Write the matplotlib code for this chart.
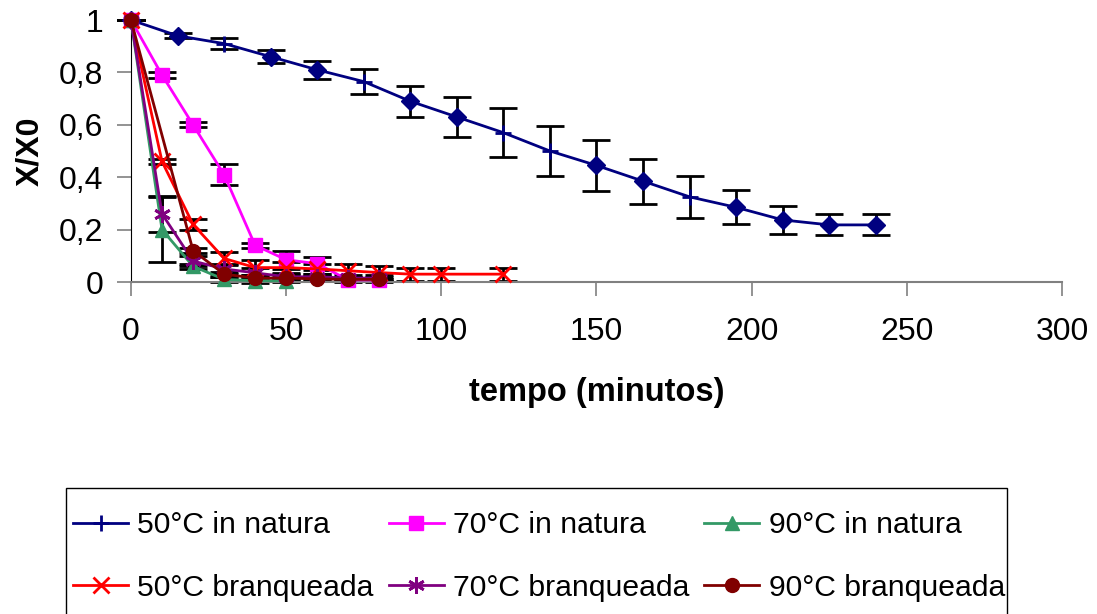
import matplotlib
matplotlib.use("Agg")
import matplotlib.pyplot as plt
from matplotlib.patches import Rectangle
from matplotlib.ticker import FixedLocator, FuncFormatter

plt.rcParams['font.family'] = ['Liberation Sans', 'DejaVu Sans']

# 50°C in natura
t_50n = [0, 15, 30, 45, 60, 75, 90, 105, 120, 135, 150, 165, 180, 195, 210, 225, 240]
y_50n = [1.0, 0.94, 0.91, 0.86, 0.81, 0.765, 0.69, 0.63, 0.57, 0.50, 0.445, 0.385, 0.325, 0.285, 0.237, 0.218, 0.218]
e_50n = [0, 0.01, 0.02, 0.025, 0.035, 0.048, 0.059, 0.078, 0.093, 0.097, 0.097, 0.086, 0.081, 0.065, 0.054, 0.04, 0.04]
plus_50n = [30, 75, 120, 135, 180]  # pontos com marcador "+", o resto losango

# 70°C in natura
t_70n = [0, 10, 20, 30, 40, 50, 60, 70, 80]
y_70n = [1.0, 0.79, 0.60, 0.41, 0.14, 0.085, 0.07, 0.008, 0.008]
e_70n = [0, 0.01, 0.01, 0.04, 0.01, 0.035, 0.025, 0.005, 0.005]

# 90°C in natura
t_90n = [0, 10, 20, 30, 40, 50]
y_90n = [1.0, 0.20, 0.06, 0.01, 0.005, 0.005]
e_90n = [0, 0.125, 0.01, 0.01, 0.01, 0.005]

# 50°C branqueada
t_50b = [0, 10, 20, 30, 40, 50, 60, 70, 80, 90, 100, 120]
y_50b = [1.0, 0.46, 0.22, 0.09, 0.055, 0.055, 0.05, 0.043, 0.036, 0.03, 0.03, 0.03]
e_50b = [0, 0.01, 0.02, 0.025, 0.03, 0.02, 0.02, 0.025, 0.025, 0.025, 0.025, 0.025]

# 70°C branqueada
t_70b = [0, 10, 20, 30, 40, 50, 60, 70, 80]
y_70b = [1.0, 0.26, 0.08, 0.05, 0.035, 0.02, 0.02, 0.015, 0.015]
e_70b = [0, 0.07, 0.02, 0.02, 0.02, 0.01, 0.01, 0.01, 0.01]

# 90°C branqueada
t_90b = [0, 20, 30, 40, 50, 60, 70, 80]
y_90b = [1.0, 0.12, 0.03, 0.015, 0.015, 0.012, 0.01, 0.01]
e_90b = [0, 0.01, 0.01, 0.01, 0.01, 0.01, 0.01, 0.01]

fig = plt.figure(figsize=(10.97, 6.14), dpi=100)
ax = fig.add_axes([0.1194, 0.5407, 0.8487, 0.4267])

asterisco = (6, 2, 0)
series = [
    (t_50n, y_50n, e_50n, '#000080', '+', 12, "50°C in natura"),
    (t_70n, y_70n, e_70n, '#FF00FF', 's', 10, "70°C in natura"),
    (t_90n, y_90n, e_90n, '#339966', '^', 10, "90°C in natura"),
    (t_50b, y_50b, e_50b, '#FF0000', 'x', 12, "50°C branqueada"),
    (t_70b, y_70b, e_70b, '#800080', asterisco, 12, "70°C branqueada"),
    (t_90b, y_90b, e_90b, '#800000', 'o', 10, "90°C branqueada"),
]

handles = []
for t, y, e, cor, mk, ms, nome in series:
    ax.errorbar(t, y, yerr=e, fmt='none', ecolor='black', elinewidth=2,
                capsize=10, capthick=2, zorder=2, clip_on=False)
    if mk == '+':
        idx = [i for i, x in enumerate(t) if x in plus_50n]
        h, = ax.plot(t, y, color=cor, lw=2, marker='+', ms=ms, mew=2,
                     markevery=idx, label=nome, zorder=3, clip_on=False)
        dia = [i for i, x in enumerate(t) if x not in plus_50n]
        ax.plot([t[i] for i in dia], [y[i] for i in dia], ls='none', marker='D',
                ms=9.5, color=cor, zorder=3, clip_on=False)
    elif mk in ('x', asterisco):
        h, = ax.plot(t, y, color=cor, lw=2, marker=mk, ms=ms, mew=2,
                     label=nome, zorder=3, clip_on=False)
    else:
        h, = ax.plot(t, y, color=cor, lw=2, marker=mk, ms=ms, mec=cor,
                     label=nome, zorder=3, clip_on=False)
    handles.append(h)

ax.set_xlim(0, 300)
ax.set_ylim(0, 1)
ax.xaxis.set_major_locator(FixedLocator([0, 50, 100, 150, 200, 250, 300]))
ax.yaxis.set_major_locator(FixedLocator([0, 0.2, 0.4, 0.6, 0.8, 1.0]))
ax.yaxis.set_major_formatter(FuncFormatter(lambda v, p: ('%g' % round(v, 1)).replace('.', ',')))

ax.spines['top'].set_visible(False)
ax.spines['right'].set_visible(False)
ax.spines['left'].set_color('black')
ax.spines['bottom'].set_color('#808080')
ax.spines['bottom'].set_linewidth(1.5)
ax.tick_params(axis='both', direction='out', length=10, width=1.2, color='#808080',
               labelsize=23, pad=10)
ax.tick_params(axis='x', pad=15)

ax.set_xlabel("tempo (minutos)", fontsize=23.5, fontweight='bold', labelpad=22)
ax.set_ylabel("X/X0", fontsize=23, fontweight='bold', labelpad=10)

# moldura da legenda (cortada na borda inferior, como no original)
fig.patches.append(Rectangle((0.0602, -0.05), 0.8578, 0.2552, transform=fig.transFigure,
                             fill=False, edgecolor='black', lw=1))

ordem = [0, 3, 1, 4, 2, 5]
leg = fig.legend([handles[i] for i in ordem], [series[i][6] for i in ordem],
                 ncol=3, loc='upper left', bbox_to_anchor=(0.0611, 0.177),
                 borderaxespad=0, fontsize=21.7, frameon=False,
                 handlelength=1.83, handletextpad=0.3,
                 columnspacing=0.5, labelspacing=1.15, borderpad=0.2)

fig.savefig("out.png", dpi=100)
